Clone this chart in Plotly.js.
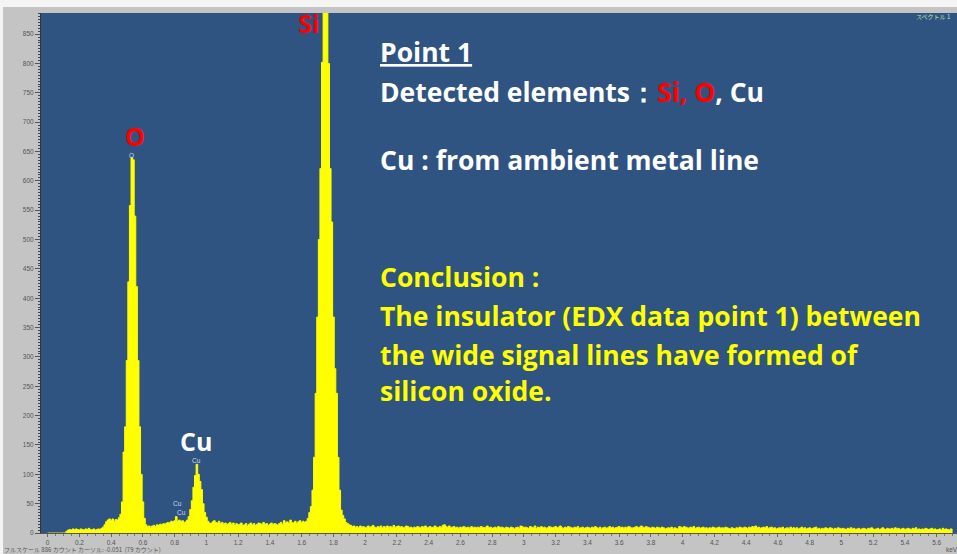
<!DOCTYPE html>
<html>
<head>
<meta charset="utf-8">
<script src="https://cdn.plot.ly/plotly-3.0.1.min.js"></script>
<style>html,body{margin:0;padding:0;background:#c4c4c4;}#chart{width:957px;height:554px;}</style>
</head>
<body>
<div id="chart"></div>
<script>
// EDX spectrum, counts per 0.01 keV channel starting at 0.00 keV
const channelStartKeV = 0;
const channelWidthKeV = 0.01;
const counts = [
  0,0,0,0,0,0,0,0,0,0,
  0,0,3,5,6,5,7,6,7,6,
  5,7,6,5,7,6,8,6,5,7,
  5,6,7,6,8,10,14,19,22,24,
  21,24,20,23,22,26,32,53,138,181,
  294,428,558,640,636,540,420,294,181,100,
  53,25,14,11,12,10,12,13,11,14,
  13,15,14,16,15,17,18,17,20,19,
  21,28,20,22,19,21,18,19,22,28,
  40,55,78,98,117,100,88,74,50,35,
  27,20,17,16,19,21,18,17,20,16,
  18,15,17,14,16,18,15,17,13,16,
  14,15,17,13,14,16,12,15,17,14,
  16,13,15,17,16,14,18,15,16,13,
  15,17,14,16,15,13,16,18,15,21,
  17,19,16,22,18,17,20,16,19,21,
  18,20,18,20,25,35,45,73,129,238,
  368,500,621,802,905,920,900,800,621,530,
  368,280,238,129,73,39,30,24,18,16,
  14,
  13,11,12,10,11,9,12,10,11,9,
  10,12,9,11,13,10,9,11,10,12,
  9,11,10,12,10,11,9,13,10,11,
  12,10,11,9,10,12,11,9,10,8,
  10,9,11,10,9,11,10,12,9,10,
  11,9,10,12,10,9,11,10,13,14,
  11,10,12,9,10,11,9,10,8,10,
  9,11,10,9,10,8,11,9,10,9,
  10,9,11,10,9,10,12,9,10,8,
  9,10,8,11,9,10,9,8,10,9,
  8,10,9,7,9,10,8,12,11,9,
  10,9,8,11,10,9,12,8,10,9,
  11,9,10,8,9,11,10,9,10,11,
  9,10,12,9,8,10,9,11,10,9,
  8,10,9,11,8,9,10,8,9,10,
  9,8,10,9,11,9,8,10,7,9,
  10,8,9,11,9,10,8,9,10,11,
  9,10,8,10,9,11,10,8,9,10,
  11,9,10,12,10,9,11,10,9,8,
  10,9,8,10,9,8,10,9,7,8,
  9,8,10,7,9,8,7,11,10,9,
  11,10,9,8,10,9,11,8,9,10,
  8,9,10,8,9,7,9,8,10,9,
  8,9,10,8,9,8,10,9,8,7,
  9,8,7,9,8,10,9,8,10,9,
  8,10,9,11,10,12,9,10,8,9,
  10,9,11,8,9,10,8,9,7,8,
  9,8,10,7,8,9,7,10,8,9,
  8,9,7,8,10,8,9,7,8,9,
  7,8,9,10,7,8,6,8,7,9,
  8,7,9,8,6,8,7,9,8,7,
  8,7,6,8,7,9,7,8,6,7,
  8,6,7,8,7,6,8,7,9,7,
  6,7,8,6,7,9,7,6,8,7,
  7,8,6,9,7,8,6,7,8,6,
  7,8,7,6,8,7,9,6,7,6,
  7,6,8,7,6,7,8,6,7,5,
  6,7,5,8,6,7,6,5,7,6
];

// Axis settings
const xRange = [-0.042, 5.728];
const yRange = [0, 886];
const xTickStep = 0.2;
const yTickStep = 50;

// Peak labels (software markers and slide labels)
const bigLabels = [
  {text: "O", x: 0.547, y: 676, color: "#ff0000"},
  {text: "Cu", x: 0.937, y: 157, color: "#ffffff"}
];
const siLabel = {text: "Si", x: 1.646, y: 862};
const smallMarkers = [
  {text: "O", x: 0.531, y: 644},
  {text: "Cu", x: 0.940, y: 123},
  {text: "Cu", x: 0.815, y: 51},
  {text: "Cu", x: 0.844, y: 35}
];

// Slide text
const slideFont = "'Open Sans', sans-serif";
const slideLines = [
  {text: "<b>Point 1</b>", y: 52, color: "#ffffff", under: true},
  {text: "<b>Detected elements：<span style='color:#ff0000'>Si, O</span>, Cu</b>", y: 92, color: "#ffffff"},
  {text: "<b>Cu : from ambient metal line</b>", y: 160, color: "#ffffff"},
  {text: "<b>Conclusion :</b>", y: 277, color: "#ffff00"},
  {text: "<b>The insulator (EDX data point 1) between</b>", y: 316, color: "#ffff00"},
  {text: "<b>the wide signal lines have formed of</b>", y: 355, color: "#ffff00"},
  {text: "<b>silicon oxide.</b>", y: 391, color: "#ffff00"}
];
const statusText = "フルスケール 886 カウント カーソル: -0.051  (79 カウント)";
const spectrumName = "スペクトル 1";
const unitText = "keV";

const W = 957, H = 554;
const M = {l: 41, r: 0, t: 13, b: 21};
const plotH = H - M.t - M.b, plotW = W - M.l - M.r;
const py = Y => (H - M.b - Y) / plotH;
const px = X => (X - M.l) / plotW;

const traces = [
  {
    type: "scatter", mode: "lines",
    x0: channelStartKeV, dx: channelWidthKeV, y: counts,
    line: {color: "#ffff00", width: 1, shape: "hvh"},
    fill: "tozeroy", fillcolor: "#ffff00",
    hoverinfo: "skip", cliponaxis: true
  },
  {
    type: "scatter", mode: "text",
    x: [siLabel.x], y: [siLabel.y], text: ["<b>" + siLabel.text + "</b>"],
    textposition: "middle center",
    textfont: {family: slideFont, size: 25, color: "#ff0000"},
    cliponaxis: true, hoverinfo: "skip"
  }
];

const annotations = [];
bigLabels.forEach(l => annotations.push({
  xref: "x", yref: "y", x: l.x, y: l.y, text: "<b>" + l.text + "</b>",
  showarrow: false, xanchor: "center", yanchor: "middle",
  font: {family: slideFont, size: 25, color: l.color}
}));
smallMarkers.forEach(l => annotations.push({
  xref: "x", yref: "y", x: l.x, y: l.y, text: l.text,
  showarrow: false, xanchor: "center", yanchor: "middle",
  font: {family: "Liberation Sans, Arial, sans-serif", size: 6.5, color: "#c9d6e8"}
}));
slideLines.forEach(l => annotations.push({
  xref: "paper", yref: "paper", x: px(378), y: py(l.y), text: l.text,
  showarrow: false, xanchor: "left", yanchor: "middle", align: "left",
  font: Object.assign({family: slideFont, size: 26.5, color: l.color}, l.under ? {lineposition: "under"} : {})
}));
annotations.push({
  xref: "paper", yref: "paper", x: px(2), y: py(549), text: statusText,
  showarrow: false, xanchor: "left", yanchor: "middle",
  font: {family: "'Noto Sans CJK JP', sans-serif", size: 6, color: "#555555"}
});
annotations.push({
  xref: "paper", yref: "paper", x: px(952), y: py(17), text: spectrumName,
  showarrow: false, xanchor: "right", yanchor: "middle",
  font: {family: "'Noto Sans CJK JP', sans-serif", size: 6, color: "#c8e6a0"}
});
annotations.push({
  xref: "paper", yref: "paper", x: px(944), y: py(549), text: unitText,
  showarrow: false, xanchor: "left", yanchor: "middle",
  font: {family: "Liberation Sans, Arial, sans-serif", size: 6.5, color: "#555555"}
});

const layout = {
  width: W, height: H,
  margin: M,
  paper_bgcolor: "#c4c4c4",
  plot_bgcolor: "#2f5482",
  showlegend: false,
  xaxis: {
    range: xRange, tick0: 0, dtick: xTickStep,
    ticks: "outside", ticklen: 3, tickcolor: "#666", tickwidth: 1,
    minor: {dtick: 0.05, ticklen: 2, tickcolor: "#777"},
    showline: true, linecolor: "#555", linewidth: 1,
    showgrid: false, zeroline: false, fixedrange: true,
    tickfont: {family: "Liberation Sans, Arial, sans-serif", size: 6.5, color: "#555"}
  },
  yaxis: {
    range: yRange, tick0: 0, dtick: yTickStep,
    ticks: "outside", ticklen: 5, tickcolor: "#555", tickwidth: 1,
    minor: {dtick: 5, ticklen: 2, tickcolor: "#444"},
    showline: true, linecolor: "#333", linewidth: 1,
    showgrid: false, zeroline: false, fixedrange: true,
    tickfont: {family: "Liberation Sans, Arial, sans-serif", size: 6.5, color: "#555"}
  },
  shapes: [
    {type: "rect", xref: "paper", yref: "paper", x0: px(0), x1: px(W), y0: py(7), y1: py(0), fillcolor: "#f4f4f4", line: {width: 0}, layer: "below"},
    {type: "rect", xref: "paper", yref: "paper", x0: px(0), x1: px(3), y0: py(H), y1: py(0), fillcolor: "#f4f4f4", line: {width: 0}, layer: "below"}
  ],
  annotations: annotations
};

Plotly.newPlot("chart", traces, layout, {displayModeBar: false, staticPlot: true});
</script>
</body>
</html>
